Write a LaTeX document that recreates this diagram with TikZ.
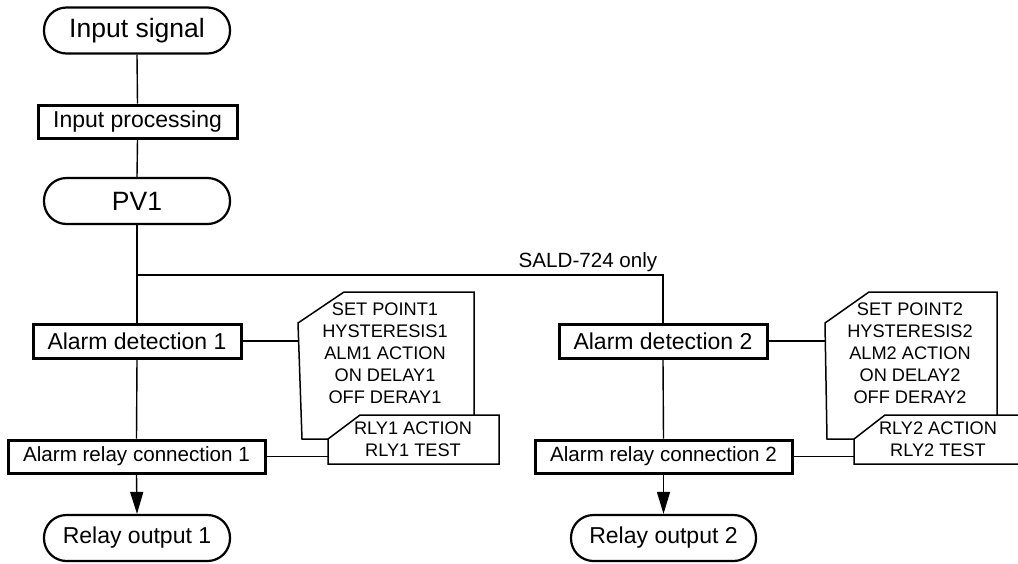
\documentclass[tikz,border=0pt]{standalone}
\usepackage{fontspec}
\setmainfont{Liberation Sans}
\usetikzlibrary{arrows.meta}
\begin{document}
\begin{tikzpicture}[x=1pt,y=-1pt,
  terminal/.style={draw,line width=2.2pt,rounded corners=22.5pt,minimum width=186pt,minimum height=46pt,inner sep=0pt},
  procbox/.style={draw,line width=3pt,minimum height=33pt,inner sep=0pt},
  conn/.style={line width=1.4pt},
  param/.style={draw,line width=1.5pt,line join=miter},
  paramtext/.style={align=center,inner sep=0pt,font=\fontsize{18.2}{22}\selectfont}]
\clip (0,0) rectangle (1018,563);
\useasboundingbox (0,0) rectangle (1018,563);

% main chain
\node[terminal,font=\fontsize{26.5}{30}\selectfont] (in) at (137,30.5) {Input signal};
\node[procbox,minimum width=199pt,font=\fontsize{23}{27}\selectfont] (proc) at (137.5,121.5) {Input processing};
\node[terminal,font=\fontsize{26.5}{30}\selectfont] (pv) at (137,201) {PV1};

% channel 1
\node[procbox,minimum width=208pt,minimum height=34pt,font=\fontsize{23}{27}\selectfont] (ad1) at (137,341) {Alarm detection 1};
\node[procbox,minimum width=257pt,font=\fontsize{20.6}{24}\selectfont] (arc1) at (136.5,456.5) {Alarm relay connection 1};
\node[terminal,font=\fontsize{23}{27}\selectfont] (ro1) at (137,538) {Relay output 1};

% channel 2
\node[procbox,minimum width=208pt,minimum height=34pt,font=\fontsize{23}{27}\selectfont] (ad2) at (663,341) {Alarm detection 2};
\node[procbox,minimum width=257pt,font=\fontsize{20.6}{24}\selectfont] (arc2) at (663.5,456.5) {Alarm relay connection 2};
\node[terminal,minimum width=185pt,font=\fontsize{23}{27}\selectfont] (ro2) at (663.5,538) {Relay output 2};

% parameter sheets, channel 1
\draw[param] (328,439) -- (302,439) -- (298,323) -- (344,292) -- (474,292) -- (474,415);
\draw[param] (328,439) -- (360,415) -- (499,415) -- (499,464) -- (328,464) -- cycle;
\node[paramtext] (p1) at (385,353) {SET POINT1\\HYSTERESIS1\\ALM1 ACTION\\ON DELAY1\\OFF DERAY1};
\node[paramtext] (r1) at (413,439) {RLY1 ACTION\\RLY1 TEST};
\coordinate (p1in) at (298.6,341);
\coordinate (r1in) at (328,456.5);

% parameter sheets, channel 2
\draw[param] (854,439) -- (827,439) -- (825,323) -- (869,292) -- (997,292) -- (997,415);
\draw[param] (854,439) -- (885,415) -- (1030,415) -- (1030,464) -- (854,464) -- cycle;
\node[paramtext] (p2) at (910,353) {SET POINT2\\HYSTERESIS2\\ALM2 ACTION\\ON DELAY2\\OFF DERAY2};
\node[paramtext] (r2) at (938,439) {RLY2 ACTION\\RLY2 TEST};
\coordinate (p2in) at (825.6,341);
\coordinate (r2in) at (854,456.5);

% connectors
\coordinate (j) at (137,275);
\draw[conn] (in.south) -- (proc.north);
\draw[conn] (proc.south) -- (pv.north);
\draw[conn] (pv.south) -- (ad1.north);
\draw[conn] (j) -| (ad2.north);
\node[font=\fontsize{20.6}{24}\selectfont,anchor=base] (sald) at (588,267) {SALD-724 only};
\draw[conn] (ad1.south) -- (arc1.north);
\draw[conn] (ad2.south) -- (arc2.north);
\draw[conn,-{Triangle[length=22pt,width=13pt]}] (arc1.south) -- (ro1.north);
\draw[conn,-{Triangle[length=22pt,width=13pt]}] (arc2.south) -- (ro2.north);
\draw[conn] (ad1.east) -- (p1in);
\draw[conn] (arc1.east) -- (r1in);
\draw[conn] (ad2.east) -- (p2in);
\draw[conn] (arc2.east) -- (r2in);
\end{tikzpicture}
\end{document}
